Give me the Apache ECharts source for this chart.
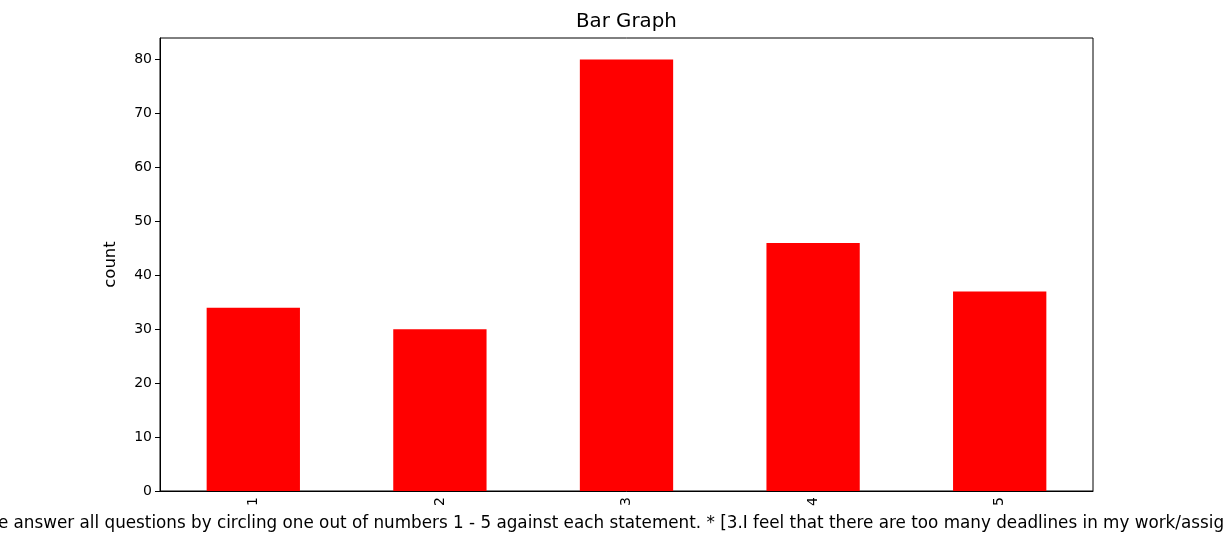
<!DOCTYPE html>
<html><head><meta charset="utf-8">
<script src="https://cdn.jsdelivr.net/npm/echarts@6/dist/echarts.min.js"></script>
<style>html,body{margin:0;padding:0;background:#fff}#c{width:1225px;height:536px}</style>
</head><body><div id="c"></div>
<script>
const categories = ['1','2','3','4','5'];
const counts = [34, 30, 80, 46, 37];
const yTicks = [0,10,20,30,40,50,60,70,80];
const xTitle = 'Please answer all questions by circling one out of numbers 1 - 5 against each statement. * [3.I feel that there are too many deadlines in my work/assignments.]';

const chart = echarts.init(document.getElementById('c'), null, {renderer:'canvas'});
const font = 'DejaVu Sans';
chart.setOption({
  animation:false,
  backgroundColor:'#fff',
  title:{text:'Bar Graph', left:576, top:12, padding:0,
    textStyle:{fontFamily:font, fontSize:19.8, fontWeight:'normal', color:'#000'}},
  grid:{left:160, right:132, top:38, bottom:45, outerBoundsMode:'none', containLabel:false,
    show:true, borderColor:'#000', borderWidth:1, backgroundColor:'transparent'},
  xAxis:{type:'category', data:categories,
    name:xTitle, nameLocation:'middle', nameGap:24,
    nameTextStyle:{fontFamily:font, fontSize:16.8, color:'#000'},
    axisLine:{lineStyle:{color:'#000', width:1}},
    axisTick:{alignWithLabel:true, length:5, lineStyle:{color:'#000'}},
    axisLabel:{rotate:90, fontFamily:font, fontSize:14, color:'#000', margin:6}},
  yAxis:{type:'value', min:0, max:84,
    name:'count', nameLocation:'middle', nameGap:41,
    nameTextStyle:{fontFamily:font, fontSize:16.5, color:'#000'},
    axisLine:{show:true, lineStyle:{color:'#000', width:1}},
    axisTick:{show:true, length:5, lineStyle:{color:'#000'}, customValues:yTicks},
    axisLabel:{fontFamily:font, fontSize:14, color:'#000', margin:8, customValues:yTicks},
    splitLine:{show:false}},
  series:[{type:'bar', data:counts, barWidth:'50%', itemStyle:{color:'#ff0000'}}]
});
</script></body></html>
